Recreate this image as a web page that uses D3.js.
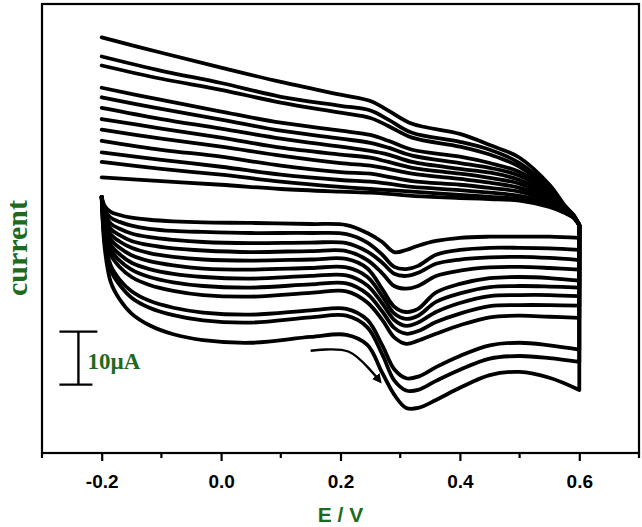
<!DOCTYPE html>
<html>
<head>
<meta charset="utf-8">
<script src="https://cdn.jsdelivr.net/npm/d3@7"></script>
<style>
  body { margin: 0; background: #fff; }
  svg { display: block; }
</style>
</head>
<body>
<div id="chart"></div>
<script>
const E_BOTTOM = [-0.2, -0.195, -0.185, -0.17, -0.15, -0.12, -0.08, -0.03, 0.05, 0.15, 0.21,
                  0.245, 0.27, 0.29, 0.31, 0.33, 0.36, 0.4, 0.45, 0.5, 0.55, 0.6];
const E_TOP = [0.6, 0.59, 0.575, 0.55, 0.5, 0.45, 0.4, 0.32, 0.28, 0.25, 0.2, 0.1, 0.0, -0.1, -0.2];

// current (µA), forward scan (lower branch), one row per cycle, innermost first
const bottomI = [
  [6.2, 4.5, 3.4, 2.8, 2.3, 1.9, 1.6, 1.4, 1.3, 1.1, 0.9, -0.6, -2.3, -4.2, -3.8, -3.0, -2.1, -1.5, -1.3, -1.3, -1.3, -1.5],
  [6.2, 3.8, 2.3, 1.5, 0.8, 0.2, -0.2, -0.4, -0.6, -0.6, -0.8, -2.4, -4.7, -7.0, -7.4, -6.8, -4.7, -3.8, -3.4, -3.4, -3.5, -3.8],
  [6.2, 3.2, 1.2, 0.2, -0.7, -1.4, -1.9, -2.3, -2.5, -2.4, -2.5, -4.1, -6.2, -8.3, -8.7, -8.1, -6.4, -5.6, -5.2, -5.1, -5.3, -5.7],
  [6.2, 2.6, 0.2, -1.0, -2.1, -2.9, -3.5, -3.9, -4.2, -4.0, -4.0, -5.7, -8.2, -10.6, -11.1, -10.6, -8.7, -7.7, -7.1, -7.0, -7.2, -7.5],
  [6.2, 2.0, -0.8, -2.2, -3.4, -4.4, -5.1, -5.6, -5.8, -5.6, -5.5, -7.3, -11.2, -14.5, -15.5, -14.9, -11.8, -10.2, -9.1, -8.9, -9.1, -9.6],
  [6.2, 1.4, -1.8, -3.4, -4.8, -5.9, -6.7, -7.3, -7.5, -7.2, -7.1, -8.9, -12.5, -15.8, -16.8, -16.2, -13.6, -12.0, -10.8, -10.6, -10.7, -10.9],
  [6.2, 0.8, -2.8, -4.6, -6.2, -7.4, -8.3, -8.9, -9.2, -8.7, -8.6, -10.5, -13.9, -17.0, -18.1, -17.5, -15.5, -13.8, -12.5, -12.3, -12.3, -12.5],
  [6.2, 0.2, -3.7, -5.8, -7.5, -8.9, -9.9, -10.6, -10.9, -10.3, -10.1, -12.1, -15.4, -18.5, -19.6, -19.1, -17.4, -15.8, -14.4, -14.2, -14.2, -14.3],
  [6.2, -0.4, -4.7, -7.0, -8.9, -10.4, -11.5, -12.3, -12.6, -11.9, -11.6, -13.7, -17.0, -20.3, -21.5, -20.9, -19.6, -18.0, -16.5, -16.2, -16.4, -16.6],
  [6.2, -1.6, -6.7, -9.4, -11.6, -13.4, -14.7, -15.6, -16.0, -15.2, -14.9, -17.0, -21.8, -26.3, -28.0, -27.7, -25.9, -23.8, -21.8, -21.3, -21.8, -22.6],
  [6.2, -2.1, -7.6, -10.4, -12.8, -14.7, -16.1, -17.1, -17.5, -16.5, -16.2, -18.4, -23.5, -28.4, -30.3, -30.2, -28.5, -26.4, -24.3, -23.8, -24.2, -24.9],
  [6.2, -3.4, -9.8, -13.1, -15.8, -18.0, -19.7, -20.8, -21.3, -20.2, -19.8, -21.7, -27.0, -31.1, -33.6, -33.6, -32.1, -29.8, -27.4, -26.8, -27.9, -30.2]
];

// current (µA), reverse scan (upper branch), same cycle order
const topI = [
  [0.9, 2.3, 3.2, 4.3, 5.5, 5.8, 6.0, 6.4, 6.8, 7.0, 7.2, 7.7, 8.5, 9.2, 9.9],
  [0.9, 2.3, 3.4, 4.5, 5.8, 6.2, 6.6, 7.2, 7.5, 7.7, 8.1, 9.1, 10.4, 11.5, 12.8],
  [0.9, 2.5, 3.4, 4.9, 6.4, 7.0, 7.5, 8.1, 8.7, 9.1, 9.4, 10.4, 11.9, 13.2, 14.6],
  [0.9, 2.5, 3.6, 5.3, 7.2, 7.9, 8.5, 9.2, 10.0, 10.6, 10.9, 12.1, 13.8, 15.1, 16.8],
  [0.9, 2.6, 3.8, 5.7, 7.9, 8.9, 9.6, 10.6, 11.5, 12.1, 12.6, 14.0, 15.7, 17.2, 18.9],
  [0.9, 2.6, 3.8, 6.0, 8.7, 9.8, 10.6, 11.7, 12.8, 13.6, 14.2, 15.5, 17.4, 19.1, 20.9],
  [0.9, 2.6, 4.0, 6.4, 9.4, 10.8, 11.5, 12.8, 14.2, 14.9, 15.7, 17.2, 19.1, 20.9, 23.0],
  [0.9, 2.6, 4.0, 6.8, 10.2, 11.7, 12.6, 14.0, 15.5, 16.4, 17.2, 18.7, 20.8, 22.8, 25.0],
  [0.9, 2.8, 4.2, 7.2, 10.9, 12.6, 13.8, 15.1, 16.8, 17.9, 18.7, 20.2, 22.3, 24.5, 26.8],
  [0.9, 2.8, 4.3, 7.5, 11.9, 14.2, 15.7, 17.4, 19.6, 21.1, 22.1, 24.0, 26.4, 28.5, 31.0],
  [0.9, 2.8, 4.5, 7.9, 12.6, 15.1, 16.6, 18.3, 20.8, 22.5, 23.4, 25.1, 27.7, 30.0, 32.7],
  [0.9, 2.8, 4.7, 8.5, 13.6, 16.0, 18.1, 20.0, 22.5, 24.3, 25.5, 27.9, 30.6, 33.4, 36.3]
];

// ticks
const majorTicks = [-0.2, 0.0, 0.2, 0.4, 0.6];
const minorTicks = [-0.3, -0.1, 0.1, 0.3, 0.5, 0.7];

// annotations (data units)
const scaleBar = { E: -0.239, from: -29.2, to: -19.2, label: "10\u00b5A" };
const scanArrow = [[0.150, -22.8], [0.214, -23.0], [0.264, -28.3]];

const W = 642, H = 527;
const box = { left: 42, right: 639, top: 4, bottom: 453 };
const green = "#1e6b1e";

const svg = d3.select("#chart").append("svg")
  .attr("width", W)
  .attr("height", H);

const x = d3.scaleLinear().domain([-0.3, 0.7]).range([box.left, box.right]);
const y = d3.scaleLinear().domain([-42.1, 42.6]).range([box.bottom, box.top]);

svg.append("defs").append("marker")
  .attr("id", "head")
  .attr("viewBox", "0 0 10 10")
  .attr("refX", 5).attr("refY", 5)
  .attr("markerWidth", 4).attr("markerHeight", 4)
  .attr("orient", "auto")
  .append("path")
    .attr("d", "M0,0 L10,5 L0,10 z")
    .attr("fill", "#000");

// voltammograms: forward branch, vertical turn at 0.6 V, reverse branch
const branch = d3.line()
  .x(d => x(d[0]))
  .y(d => y(d[1]))
  .curve(d3.curveCatmullRom.alpha(0.5));

const cycles = bottomI.map((b, i) => ({
  fwd: b.map((v, j) => [E_BOTTOM[j], v]),
  rev: topI[i].map((v, j) => [E_TOP[j], v])
}));

const cv = svg.append("g")
  .attr("fill", "none")
  .attr("stroke", "#000")
  .attr("stroke-width", 3.8)
  .attr("stroke-linejoin", "round")
  .attr("stroke-linecap", "round");

cycles.forEach(c => {
  const fwd = branch(c.fwd);
  const turn = `L${x(c.rev[0][0])},${y(c.rev[0][1])}`;
  const rev = branch(c.rev).replace(/^M[^LC]*/, "");
  cv.append("path").attr("d", fwd + turn + rev);
});

// frame
svg.append("rect")
  .attr("x", box.left).attr("y", box.top)
  .attr("width", box.right - box.left).attr("height", box.bottom - box.top)
  .attr("fill", "none")
  .attr("stroke", "#000")
  .attr("stroke-width", 2.2);

// x axis
const xAxis = svg.append("g")
  .attr("transform", `translate(0,${box.bottom})`)
  .call(d3.axisBottom(x).tickValues(majorTicks).tickSize(8).tickPadding(14)
          .tickFormat(d => d.toFixed(1)));
xAxis.select(".domain").remove();
xAxis.selectAll(".tick line").attr("stroke-width", 2.2);
xAxis.selectAll("text")
  .attr("fill", "#000")
  .style("font-family", "'Liberation Sans', Arial, sans-serif")
  .style("font-weight", "bold")
  .style("font-size", "19px");

svg.append("g")
  .selectAll("line")
  .data(minorTicks)
  .enter()
  .append("line")
    .attr("x1", d => x(d)).attr("x2", d => x(d))
    .attr("y1", box.bottom).attr("y2", box.bottom + 5)
    .attr("stroke", "#000")
    .attr("stroke-width", 2.2);

// axis titles
svg.append("text")
  .attr("x", (box.left + box.right) / 2)
  .attr("y", 522)
  .attr("text-anchor", "middle")
  .attr("fill", green)
  .style("font-family", "'Liberation Sans', Arial, sans-serif")
  .style("font-weight", "bold")
  .style("font-size", "21px")
  .text("E / V");

svg.append("text")
  .attr("transform", "translate(27,248) rotate(-90)")
  .attr("text-anchor", "middle")
  .attr("fill", green)
  .style("font-family", "'Liberation Serif', 'Times New Roman', serif")
  .style("font-weight", "bold")
  .style("font-size", "30px")
  .text("current");

// 10 µA scale bar
const sb = svg.append("g").attr("stroke", "#000").attr("stroke-width", 2.4);
sb.append("line")
  .attr("x1", x(scaleBar.E)).attr("x2", x(scaleBar.E))
  .attr("y1", y(scaleBar.to)).attr("y2", y(scaleBar.from));
sb.append("line")
  .attr("x1", x(scaleBar.E) - 19).attr("x2", x(scaleBar.E) + 19)
  .attr("y1", y(scaleBar.to)).attr("y2", y(scaleBar.to));
sb.append("line")
  .attr("x1", x(scaleBar.E) - 19).attr("x2", x(scaleBar.E) + 14)
  .attr("y1", y(scaleBar.from)).attr("y2", y(scaleBar.from));

svg.append("text")
  .attr("x", x(scaleBar.E) + 9)
  .attr("y", y((scaleBar.from + scaleBar.to) / 2) + 11)
  .attr("fill", green)
  .style("font-family", "'Liberation Serif', 'Times New Roman', serif")
  .style("font-weight", "bold")
  .style("font-size", "23px")
  .text(scaleBar.label);

// scan direction arrow
svg.append("path")
  .attr("d", d3.line().x(d => x(d[0])).y(d => y(d[1])).curve(d3.curveCatmullRom.alpha(0.5))(scanArrow))
  .attr("fill", "none")
  .attr("stroke", "#000")
  .attr("stroke-width", 2.4)
  .attr("marker-end", "url(#head)");
</script>
</body>
</html>
